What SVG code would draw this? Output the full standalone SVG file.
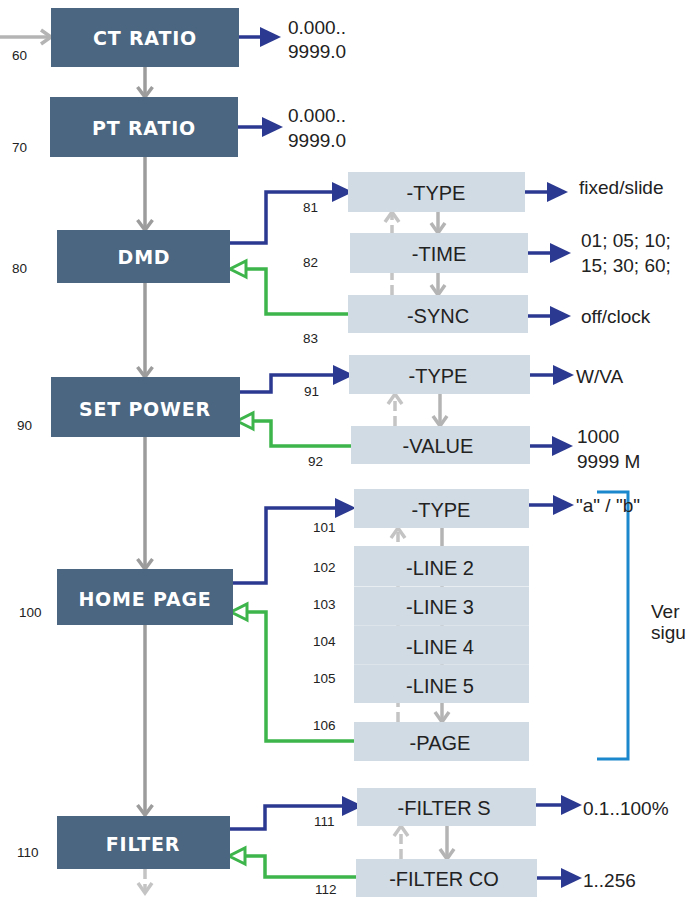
<svg xmlns="http://www.w3.org/2000/svg" width="687" height="906" viewBox="0 0 687 906">
<style>
.main rect{fill:#4a6680;}
.main text{fill:#fff;font-family:"DejaVu Sans",sans-serif;font-weight:bold;font-size:19px;letter-spacing:0.8px;text-anchor:middle;}
.sub rect{fill:#d1dbe4;}
.sub text{fill:#222;font-family:"Liberation Sans",Arial,sans-serif;font-size:20px;text-anchor:middle;}
.num{fill:#222;font-family:"Liberation Sans",Arial,sans-serif;font-size:13.5px;}
.out{fill:#222;font-family:"Liberation Sans",Arial,sans-serif;font-size:19px;}
.g{fill:none;stroke:#9c9c9c;stroke-width:3.5;}
.gs{fill:none;stroke:#b4b4b4;stroke-width:3.5;}
.gd{fill:none;stroke:#c4c4c4;stroke-width:3.5;stroke-dasharray:10 5;}
.b{fill:none;stroke:#2b3990;stroke-width:3.5;}
.gr{fill:none;stroke:#3db54a;stroke-width:3.5;}
.br{fill:none;stroke:#1b87cc;stroke-width:3;}
</style>
<defs>
<marker id="chev" markerUnits="userSpaceOnUse" viewBox="-2 -10 16 20" refX="10" refY="0" markerWidth="16" markerHeight="20" orient="auto" overflow="visible">
<path d="M0,-7.5 L10,0 L0,7.5" fill="none" stroke="#9c9c9c" stroke-width="3.5"/>
</marker>
<marker id="chevs" markerUnits="userSpaceOnUse" viewBox="-2 -10 16 20" refX="10" refY="0" markerWidth="16" markerHeight="20" orient="auto" overflow="visible">
<path d="M0,-7 L10,0 L0,7" fill="none" stroke="#b4b4b4" stroke-width="3.5"/>
</marker>
<marker id="chevd" markerUnits="userSpaceOnUse" viewBox="-2 -10 16 20" refX="10" refY="0" markerWidth="16" markerHeight="20" orient="auto" overflow="visible">
<path d="M0,-7 L10,0 L0,7" fill="none" stroke="#c4c4c4" stroke-width="3.5"/>
</marker>
<marker id="blu" markerUnits="userSpaceOnUse" viewBox="0 0 21 20" refX="0" refY="10" markerWidth="21" markerHeight="20" orient="auto" overflow="visible">
<path d="M0,0 L21,10 L0,20 z" fill="#2b3990"/>
</marker>
<marker id="grn" markerUnits="userSpaceOnUse" viewBox="-2 -2 21 20" refX="0" refY="8" markerWidth="21" markerHeight="20" orient="auto" overflow="visible">
<path d="M0,0 L16,8 L0,16 z" fill="#fff" stroke="#3db54a" stroke-width="3"/>
</marker>
</defs>

<g id="connectors">
<path class="gs" d="M0,37 H51" marker-end="url(#chevs)"/>
<path class="g" d="M145,67 V97" marker-end="url(#chev)"/>
<path class="g" d="M145,157 V230" marker-end="url(#chev)"/>
<path class="g" d="M145,283 V377" marker-end="url(#chev)"/>
<path class="g" d="M145,437 V569" marker-end="url(#chev)"/>
<path class="g" d="M145,625 V815" marker-end="url(#chev)"/>
<path class="gd" d="M145,869 V893" marker-end="url(#chevd)"/>
<path class="b" d="M239,37 H260" marker-end="url(#blu)"/>
<path class="b" d="M238,127 H262" marker-end="url(#blu)"/>
<path class="b" d="M230,243 H266 V192 H332" marker-end="url(#blu)"/>
<path class="gr" d="M348,314 H266 V269 H246" marker-end="url(#grn)"/>
<path class="gs" d="M438,212 V233" marker-end="url(#chevs)"/>
<path class="gs" d="M438,273 V295" marker-end="url(#chevs)"/>
<path class="gd" d="M392,295 V212" marker-end="url(#chevd)"/>
<path class="b" d="M525,192 H547" marker-end="url(#blu)"/>
<path class="b" d="M528,253 H550" marker-end="url(#blu)"/>
<path class="b" d="M528,316 H550" marker-end="url(#blu)"/>
<path class="b" d="M239,392 H271 V375 H333" marker-end="url(#blu)"/>
<path class="gr" d="M351,446 H271 V421 H253" marker-end="url(#grn)"/>
<path class="gs" d="M440,394 V426" marker-end="url(#chevs)"/>
<path class="gd" d="M395,426 V394" marker-end="url(#chevd)"/>
<path class="b" d="M530,375 H553" marker-end="url(#blu)"/>
<path class="b" d="M530,446 H552" marker-end="url(#blu)"/>
<path class="b" d="M233,583 H266 V508 H335" marker-end="url(#blu)"/>
<path class="gr" d="M354,741 H266 V612 H247" marker-end="url(#grn)"/>
<path class="gs" d="M442,528 V722" marker-end="url(#chevs)"/>
<path class="gd" d="M398,722 V528" marker-end="url(#chevd)"/>
<path class="b" d="M529,505 H553" marker-end="url(#blu)"/>
<path class="br" d="M597,492 H628 V759 H597"/>
<path class="b" d="M230,829 H265 V806 H342" marker-end="url(#blu)"/>
<path class="gr" d="M356,877 H265 V856 H245" marker-end="url(#grn)"/>
<path class="gs" d="M447,826 V859" marker-end="url(#chevs)"/>
<path class="gd" d="M401,859 V826" marker-end="url(#chevd)"/>
<path class="b" d="M536,805 H561" marker-end="url(#blu)"/>
<path class="b" d="M536,878 H561" marker-end="url(#blu)"/>
</g>

<g id="ct-ratio" class="main"><rect x="51" y="8" width="188" height="59"/><text x="145" y="45">CT RATIO</text></g>
<g id="pt-ratio" class="main"><rect x="50" y="97" width="188" height="60"/><text x="144" y="135">PT RATIO</text></g>
<g id="dmd" class="main"><rect x="57" y="230" width="173" height="53"/><text x="144" y="264">DMD</text></g>
<g id="set-power" class="main"><rect x="51" y="377" width="189" height="60"/><text x="145" y="416">SET POWER</text></g>
<g id="home-page" class="main"><rect x="57" y="569" width="176" height="56"/><text x="145" y="606">HOME PAGE</text></g>
<g id="filter" class="main"><rect x="57" y="816" width="173" height="53"/><text x="143" y="851">FILTER</text></g>

<g id="dmd-type" class="sub"><rect x="348" y="172" width="177" height="40"/><text x="436" y="200">-TYPE</text></g>
<g id="dmd-time" class="sub"><rect x="350" y="233" width="178" height="40"/><text x="439" y="261">-TIME</text></g>
<g id="dmd-sync" class="sub"><rect x="348" y="295" width="180" height="38"/><text x="438" y="323">-SYNC</text></g>

<g id="sp-type" class="sub"><rect x="349" y="355" width="181" height="39"/><text x="438" y="383">-TYPE</text></g>
<g id="sp-value" class="sub"><rect x="351" y="426" width="179" height="38"/><text x="438" y="453">-VALUE</text></g>

<g id="hp-type" class="sub"><rect x="354" y="489" width="175" height="39"/><text x="441" y="517">-TYPE</text></g>
<g id="hp-line2" class="sub"><rect x="354" y="546" width="175" height="40"/><text x="440" y="575">-LINE 2</text></g>
<g id="hp-line3" class="sub"><rect x="354" y="586.5" width="175" height="39"/><text x="440" y="614">-LINE 3</text></g>
<g id="hp-line4" class="sub"><rect x="354" y="625.5" width="175" height="39"/><text x="440" y="654">-LINE 4</text></g>
<g id="hp-line5" class="sub"><rect x="354" y="664.5" width="175" height="38.5"/><text x="440" y="693">-LINE 5</text></g>
<g id="hp-page" class="sub"><rect x="354" y="722" width="175" height="39"/><text x="440" y="750">-PAGE</text></g>

<g id="f-s" class="sub"><rect x="357" y="788" width="179" height="38"/><text x="444" y="815">-FILTER S</text></g>
<g id="f-co" class="sub"><rect x="356" y="859" width="181" height="38"/><text x="444" y="886">-FILTER CO</text></g>

<g id="labels">
<text class="num" x="12" y="60">60</text>
<text class="num" x="12" y="152">70</text>
<text class="num" x="12" y="273">80</text>
<text class="num" x="17" y="430">90</text>
<text class="num" x="19" y="617">100</text>
<text class="num" x="17" y="857">110</text>
<text class="num" x="303" y="212">81</text>
<text class="num" x="303" y="267">82</text>
<text class="num" x="303" y="343">83</text>
<text class="num" x="304" y="396">91</text>
<text class="num" x="308" y="466">92</text>
<text class="num" x="313" y="532">101</text>
<text class="num" x="313" y="572">102</text>
<text class="num" x="313" y="609">103</text>
<text class="num" x="313" y="646">104</text>
<text class="num" x="313" y="683">105</text>
<text class="num" x="313" y="730">106</text>
<text class="num" x="314" y="826">111</text>
<text class="num" x="315" y="894">112</text>
</g>

<g id="outputs">
<text class="out" x="288" y="34">0.000..</text>
<text class="out" x="288" y="58">9999.0</text>
<text class="out" x="288" y="122">0.000..</text>
<text class="out" x="288" y="147">9999.0</text>
<text class="out" x="579" y="194">fixed/slide</text>
<text class="out" x="581" y="247">01; 05; 10;</text>
<text class="out" x="581" y="272">15; 30; 60;</text>
<text class="out" x="581" y="323">off/clock</text>
<text class="out" x="576" y="383">W/VA</text>
<text class="out" x="577" y="443">1000</text>
<text class="out" x="577" y="468">9999 M</text>
<text class="out" x="576" y="512">"a" / "b"</text>
<text class="out" x="651" y="618">Ver</text>
<text class="out" x="651" y="639">sigu</text>
<text class="out" x="583" y="815">0.1..100%</text>
<text class="out" x="583" y="887">1..256</text>
</g>
</svg>
